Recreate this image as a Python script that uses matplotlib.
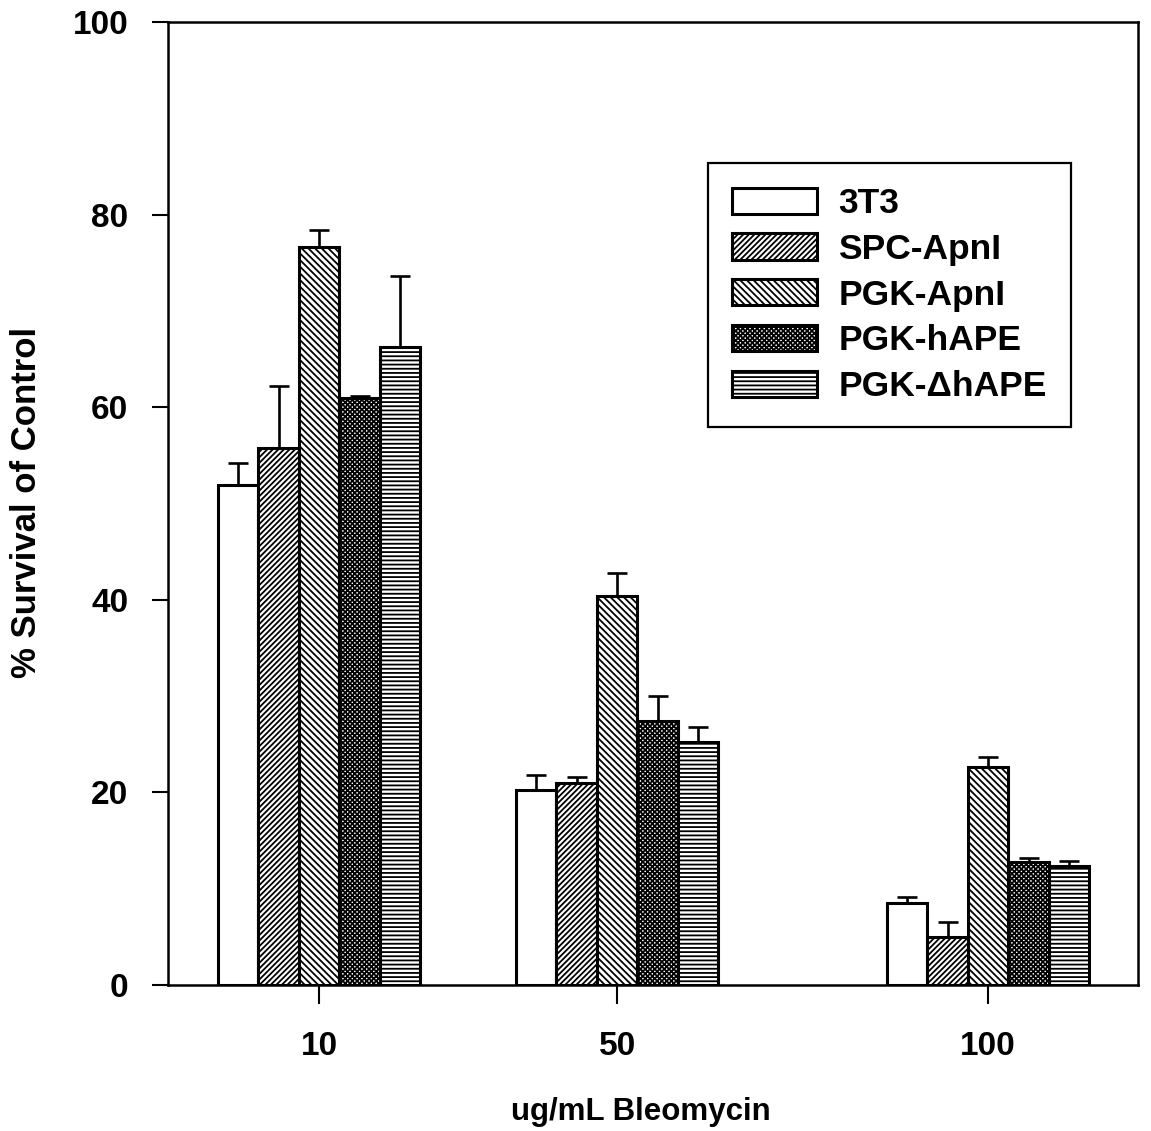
import numpy as np
import matplotlib
matplotlib.use('Agg')
import matplotlib.pyplot as plt

plt.rcParams['font.family'] = ['Liberation Sans', 'DejaVu Sans']
plt.rcParams['font.weight'] = 'bold'
plt.rcParams['hatch.linewidth'] = 1.3

# data
doses = ['10', '50', '100']
series = ['3T3', 'SPC-ApnI', 'PGK-ApnI', 'PGK-hAPE', 'PGK-\u0394hAPE']
means = {
    '3T3':       [51.9, 20.2, 8.5],
    'SPC-ApnI':  [55.8, 21.0, 5.0],
    'PGK-ApnI':  [76.6, 40.4, 22.6],
    'PGK-hAPE':  [61.0, 27.4, 12.8],
    'PGK-\u0394hAPE': [66.3, 25.2, 12.4],
}
errs = {
    '3T3':       [2.3, 1.6, 0.6],
    'SPC-ApnI':  [6.4, 0.6, 1.5],
    'PGK-ApnI':  [1.8, 2.4, 1.1],
    'PGK-hAPE':  [0.2, 2.6, 0.4],
    'PGK-\u0394hAPE': [7.3, 1.6, 0.5],
}

# styling
hatches = ['', '//////', '\\\\\\\\\\', 'xxxxxxx', '----']
group_x = np.array([0.0, 1.0, 2.245])
width = 0.136

fig = plt.figure(figsize=(11.51, 11.31), dpi=100)
ax = fig.add_axes([168/1151, 1-985/1131, 970/1151, 963/1131])

for i, name in enumerate(series):
    x = group_x + (i - 2) * width
    m = np.array(means[name])
    e = np.array(errs[name])
    ax.bar(x, m, width=width, color='white', edgecolor='black', linewidth=2.2,
           hatch=hatches[i], label=name, zorder=2)
    ax.errorbar(x, m, yerr=[np.zeros_like(e), e], fmt='none', ecolor='black',
                elinewidth=1.9, capsize=7, capthick=1.9, zorder=3)

ax.set_xlim(-0.507, 2.748)
ax.set_ylim(0, 100)
ax.set_xticks(group_x)
ax.set_xticklabels(doses)
ax.set_yticks([0, 20, 40, 60, 80, 100])
for s in ax.spines.values():
    s.set_linewidth(1.8)
ax.tick_params(axis='y', direction='out', length=11.5, width=1.5, pad=17, labelsize=24)
ax.tick_params(axis='x', direction='out', length=14, width=1.5, pad=19, labelsize=24)

fig.text(27/1151, 1-502/1131, '% Survival of Control', fontsize=25, fontweight='bold',
         rotation=90, ha='center', va='center')
fig.text(641/1151, 1-1112/1131, 'ug/mL Bleomycin', fontsize=22.5, fontweight='bold',
         ha='center', va='center')

leg = ax.legend(loc='upper left', bbox_to_anchor=(708/1151, 1-163/1131),
                bbox_transform=fig.transFigure, borderaxespad=0, fancybox=False,
                edgecolor='black', framealpha=1, handlelength=2.4,
                handleheight=0.76, handletextpad=0.6, labelspacing=0.36,
                borderpad=0.68, prop={'weight': 'bold', 'size': 25.5})
leg.get_frame().set_linewidth(1.6)

fig.savefig('out.png', dpi=100)
